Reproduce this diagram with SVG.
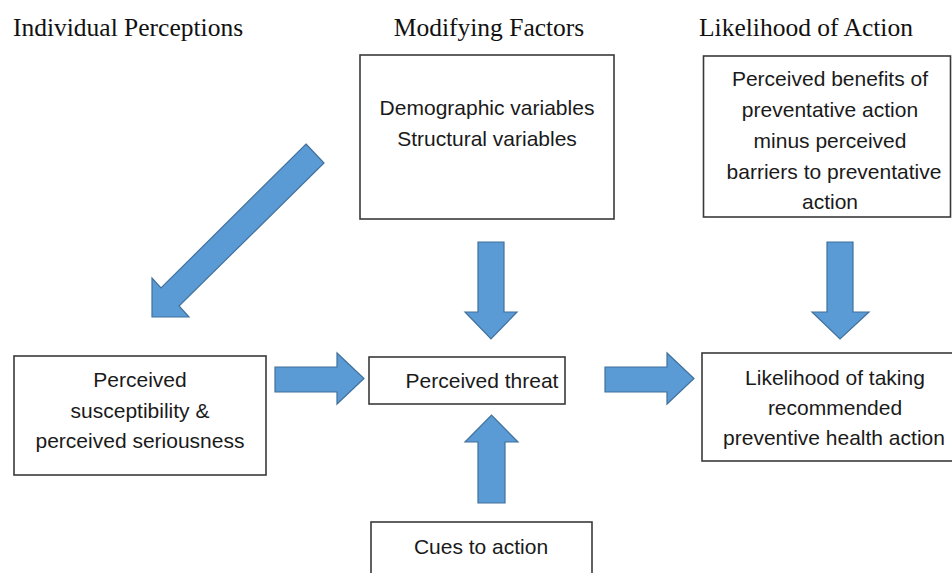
<svg xmlns="http://www.w3.org/2000/svg" width="952" height="573" viewBox="0 0 952 573">
<style>
.title{font-family:"Liberation Serif","Times New Roman",serif;font-size:25.5px;fill:#111;text-anchor:middle}
.t{font-family:"Liberation Sans",Arial,sans-serif;font-size:21px;fill:#1a1a1a;text-anchor:middle}
.box{fill:#fff;stroke:#3a3a3a;stroke-width:1.6}
.arr{fill:#5b9bd5;stroke:#41719c;stroke-width:1.2;stroke-linejoin:miter}
</style>
<rect width="952" height="573" fill="#fff"/>
<g id="titles">
<text class="title" x="128" y="36">Individual Perceptions</text>
<text class="title" x="489" y="36">Modifying Factors</text>
<text class="title" x="806" y="36">Likelihood of Action</text>
</g>
<g id="connectors">
<polygon class="arr" points="306,144 324,163 179,306 189,317 152,317 152,278 161,288"/>
<polygon class="arr" points="275,367 337,367 337,353 364,378.5 337,404 337,392 275,392"/>
<polygon class="arr" points="605,367 667,367 667,353 694,378.5 667,404 667,392 605,392"/>
<polygon class="arr" points="478,242 504,242 504,312 517,312 491,339 465,312 478,312"/>
<polygon class="arr" points="827,242 853,242 853,312 869,312 840,339 812,312 827,312"/>
<polygon class="arr" points="478,503 505,503 505,442 518,442 491.5,415 465,442 478,442"/>
</g>
<g id="node-modifying">
<rect class="box" x="360" y="55" width="254" height="164"/>
<text class="t" x="487" y="115">Demographic variables</text>
<text class="t" x="487" y="146">Structural variables</text>
</g>
<g id="node-benefits">
<rect class="box" x="703.5" y="56" width="247" height="161"/>
<text class="t" x="830" y="86">Perceived benefits of</text>
<text class="t" x="830" y="117">preventative action</text>
<text class="t" x="830" y="148">minus perceived</text>
<text class="t" x="834" y="179">barriers to preventative</text>
<text class="t" x="830" y="209">action</text>
</g>
<g id="node-susceptibility">
<rect class="box" x="14" y="356" width="252" height="119"/>
<text class="t" x="140" y="387">Perceived</text>
<text class="t" x="140" y="418">susceptibility &amp;</text>
<text class="t" x="140" y="448">perceived seriousness</text>
</g>
<g id="node-threat">
<rect class="box" x="369" y="357" width="196" height="47"/>
<text class="t" x="482" y="388">Perceived threat</text>
</g>
<g id="node-likelihood">
<rect class="box" x="702" y="353" width="260" height="108"/>
<text class="t" x="835" y="385">Likelihood of taking</text>
<text class="t" x="835" y="415">recommended</text>
<text class="t" x="834" y="445">preventive health action</text>
</g>
<g id="node-cues">
<rect class="box" x="371" y="522" width="221" height="70"/>
<text class="t" x="481" y="554">Cues to action</text>
</g>
</svg>
